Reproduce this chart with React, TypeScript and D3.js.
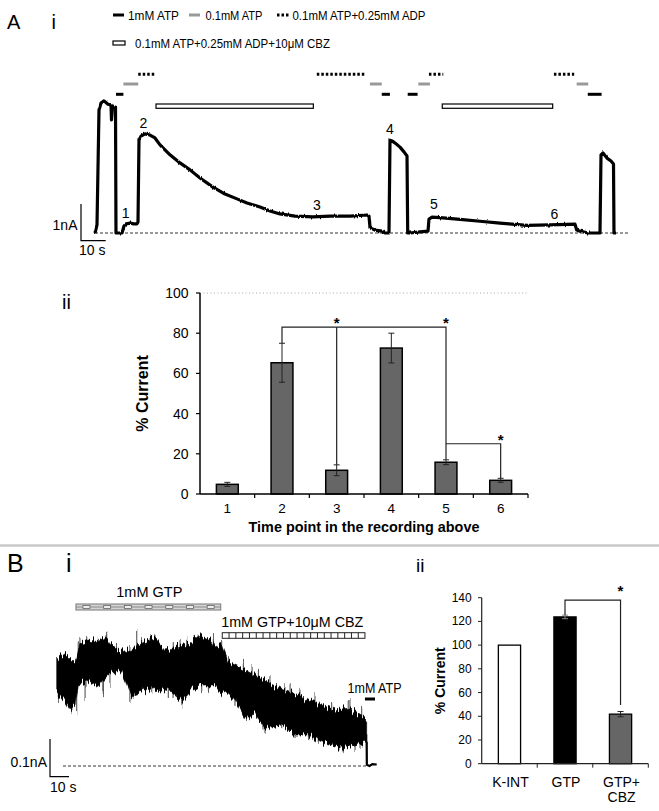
import React from "react";
import * as d3 from "d3";

const FONT = "'Liberation Sans', Arial, Helvetica, sans-serif";

// ---------- Panel A i : current trace (time s, current nA) ----------
const traceATime = [0, 0.81, 1.62, 2.43, 3.64, 5.26, 6.48, 6.68, 7.09, 7.89, 8.3, 8.5, 10.93, 11.74, 12.55, 14.17, 15.79, 17.0, 17.41, 17.81, 18.62, 20.24, 22.27, 24.29, 26.32, 30.36, 34.41, 38.46, 42.51, 47.77, 52.63, 57.49, 61.54, 66.8, 70.85, 74.9, 80.97, 88.26, 95.14, 103.24, 110.12, 110.93, 111.34, 113.36, 116.19, 117.41, 119.03, 119.43, 120.24, 121.86, 123.48, 125.1, 126.32, 126.6, 127.53, 131.58, 134.82, 135.22, 136.44, 139.68, 147.77, 155.87, 163.97, 174.9, 184.21, 194.33, 195.02, 196.36, 199.6, 204.45, 204.86, 205.67, 207.29, 208.91, 209.92, 210.12, 210.93];
const traceACurrent = [0, 0.22, 3.35, 3.54, 3.6, 3.51, 3.49, 3.08, 3.46, 3.43, 3.43, 0, 0, 0.19, 0.25, 0.27, 0.25, 0.25, 0.3, 2.53, 2.64, 2.7, 2.67, 2.59, 2.4, 2.13, 1.91, 1.72, 1.5, 1.25, 1.06, 0.93, 0.82, 0.71, 0.6, 0.52, 0.46, 0.44, 0.46, 0.46, 0.49, 0.46, 0.14, 0.08, 0.05, 0, 0, 2.53, 2.51, 2.43, 2.34, 2.21, 2.1, 0, 0, 0.03, 0.05, 0.38, 0.43, 0.42, 0.37, 0.32, 0.27, 0.21, 0.22, 0.24, 0.08, 0.05, 0, 0, 2.13, 2.18, 2.04, 1.96, 1.88, 0, 0];
const traceAEnd = 216.6;

// solution applications (start, end) in s
const atp1mM = [[8.5, 11.5], [116.1, 119.4], [126.6, 130.6], [199.5, 205.1]];
const atp01mM = [[11.5, 17.5], [111.3, 116.1], [130.9, 135.6], [195.0, 199.7]];
const atpAdp = [[17.5, 24.7], [89.8, 109.7], [135.2, 141.0], [185.8, 194.0]];
const atpAdpCbz = [[24.7, 88.4], [140.6, 185.3]];

// numbered time points on the trace [time s, current nA]
const pointLabels = ["1", "2", "3", "4", "5", "6"];
const pointPos = [[12.4, 0.55], [19.6, 2.99], [89.8, 0.76], [119.4, 2.83], [137.2, 0.79], [186.0, 0.52]];

// ---------- Panel A ii : bar chart ----------
const timePoints = ["1", "2", "3", "4", "5", "6"];
const pctCurrentA = [4.8, 65.3, 11.8, 72.6, 15.8, 6.8];
const pctErrorA = [1.0, 9.7, 2.7, 7.4, 1.2, 1.0];
const yTicksA = [0, 20, 40, 60, 80, 100];

// ---------- Panel B i : GTP trace (time s, current nA) ----------
const bUpper = [[0.37, 0.286], [4.74, 0.3], [10.0, 0.273], [12.6, 0.326], [17.0, 0.334], [22.3, 0.33], [25.8, 0.343], [29.3, 0.321], [36.3, 0.299], [39.8, 0.308], [46.8, 0.33], [52.1, 0.34], [57.4, 0.308], [64.2, 0.316], [69.6, 0.325], [74.9, 0.347], [81.9, 0.33], [83.7, 0.313], [87.2, 0.321], [90.7, 0.277], [97.7, 0.259], [104.7, 0.241], [111.7, 0.224], [118.8, 0.206], [125.8, 0.193], [132.8, 0.175], [139.8, 0.162], [146.8, 0.149], [153.8, 0.153], [159.1, 0.135], [163.5, 0.122]];
const bLower = [[0.37, 0.188], [4.74, 0.171], [7.37, 0.149], [10.0, 0.162], [11.7, 0.215], [17.0, 0.224], [22.3, 0.21], [25.8, 0.233], [29.3, 0.25], [34.6, 0.25], [39.8, 0.188], [46.8, 0.202], [53.8, 0.206], [60.9, 0.197], [66.2, 0.175], [71.4, 0.202], [76.7, 0.215], [81.9, 0.215], [83.7, 0.215], [87.2, 0.194], [88.9, 0.197], [94.2, 0.171], [99.5, 0.127], [104.7, 0.135], [110.0, 0.1], [118.8, 0.109], [125.8, 0.082], [132.8, 0.082], [139.8, 0.064], [145.1, 0.056], [150.4, 0.047], [157.4, 0.056], [163.5, 0.064]];
// individual noise spikes [time s, tip current nA]
const bSpikes = [
  [1.2, 0.175], [8.4, 0.149], [10.9, 0.143], [15.3, 0.175], [15.8, 0.202], [24.7, 0.196], [24.9, 0.188], [28.4, 0.215], [38.9, 0.17], [41.1, 0.183], [43.3, 0.194], [50.4, 0.188], [59.1, 0.175], [61.6, 0.183], [63.5, 0.188], [66.2, 0.162], [76.7, 0.196], [80.2, 0.202],
  [94.2, 0.154], [100.4, 0.122], [108.9, 0.095], [110.0, 0.09], [118.8, 0.095], [125.8, 0.074], [132.8, 0.069], [138.0, 0.056], [145.8, 0.051], [149.5, 0.042], [151.1, 0.042], [157.4, 0.042], [160.0, 0.048],
  [11.7, 0.334], [12.6, 0.342], [16.2, 0.342], [22.3, 0.34], [26.3, 0.347], [26.7, 0.353], [31.9, 0.329], [38.9, 0.321], [42.5, 0.353], [45.1, 0.334], [49.5, 0.342], [52.1, 0.345], [55.6, 0.321], [61.7, 0.326], [65.3, 0.334], [68.8, 0.34], [74.9, 0.353], [75.8, 0.347], [77.5, 0.34], [82.8, 0.342], [87.2, 0.334],
  [90.7, 0.294], [98.6, 0.276], [103.2, 0.268], [106.5, 0.255], [112.6, 0.241], [120.5, 0.22], [123.2, 0.22], [128.4, 0.202], [136.3, 0.188], [145.1, 0.175], [153.8, 0.175], [154.7, 0.175], [160.9, 0.154]
];
const bTailTime = [163.5, 163.6, 165.0, 166.5, 168.8];
const bTailCurrent = [0.064, 0.003, 0.0, 0.005, 0.004];
const bEnd = 163.5;
const gtpApp = [10.5, 86.7];
const gtpCbzApp = [87.5, 162.6];
const atpAppB = [162.6, 167.9];

// ---------- Panel B ii : bar chart ----------
const condB = ["K-INT", "GTP", "GTP+CBZ"];
const condLabelsB = [["K-INT"], ["GTP"], ["GTP+", "CBZ"]];
const pctCurrentB = [100, 123.8, 41.8];
const pctErrorB = [0, 1.5, 2.2];
const barFillB = ["#ffffff", "#000000", "#666666"];
const yTicksB = [0, 20, 40, 60, 80, 100, 120, 140];

export default function App() {
  // --- A i scales
  const xA = d3.scaleLinear().domain([0, traceAEnd]).range([95, 630]);
  const yA = d3.scaleLinear().domain([0, 1]).range([233, 196.3]);
  const lineA = d3.line<number[]>().x((d) => xA(d[0])).y((d) => yA(d[1]));
  const traceA = lineA(traceATime.map((t, i) => [t, traceACurrent[i]])) || "";

  // --- A ii scales
  const xBA = d3.scaleBand<string>().domain(timePoints).range([200, 528]).paddingInner(0.6).paddingOuter(0.3);
  const yBA = d3.scaleLinear().domain([0, 100]).range([494, 293]);
  const cA = (k: string) => (xBA(k) as number) + xBA.bandwidth() / 2;
  const errTopA = (k: string) => {
    const i = timePoints.indexOf(k);
    return pctCurrentA[i] + pctErrorA[i];
  };

  // --- B i scales
  const xB = d3.scaleLinear().domain([0, 170]).range([56, 379]);
  const yB = d3.scaleLinear().domain([0, 0.1]).range([766, 728.3]);
  const lineB = d3.line<number[]>().x((d) => xB(d[0])).y((d) => yB(d[1]));
  const bandPath = (lineB([...bUpper, ...bLower.slice().reverse()]) || "") + "Z";
  const upInterp = d3.scaleLinear().domain(bUpper.map((d) => d[0])).range(bUpper.map((d) => d[1]));
  const loInterp = d3.scaleLinear().domain(bLower.map((d) => d[0])).range(bLower.map((d) => d[1]));
  const tailPath = lineB(bTailTime.map((t, i) => [t, bTailCurrent[i]])) || "";

  // --- B ii scales
  const xBB = d3.scaleBand<string>().domain(condB).range([481.7, 648.3]).paddingInner(0.6).paddingOuter(0.3);
  const yBB = d3.scaleLinear().domain([0, 140]).range([763.7, 597.7]);
  const cB = (k: string) => (xBB(k) as number) + xBB.bandwidth() / 2;

  const appRow = (ranges: number[][], y: number, stroke: string, dash?: string) =>
    ranges.map((r, i) => (
      <line key={i} x1={xA(r[0])} x2={xA(r[1])} y1={y} y2={y} stroke={stroke} strokeWidth={3} strokeDasharray={dash} />
    ));

  const step = xBA.step();
  const stepB = xBB.step();

  return (
    <svg width={659} height={811} style={{ position: "absolute", left: 0, top: 0, background: "#fff" }} fontFamily={FONT}>
      <defs>
        <filter id="fuzzB" filterUnits="userSpaceOnUse" x={40} y={600} width={360} height={190}>
          <feTurbulence type="fractalNoise" baseFrequency="0.55 0.015" numOctaves={2} seed={4} result="t" />
          <feColorMatrix in="t" type="matrix" values="0 0 0 0 0.5  1 0 0 0 0  0 0 0 0 0  0 0 0 0 1" result="m" />
          <feDisplacementMap in="SourceGraphic" in2="m" scale={16} xChannelSelector="R" yChannelSelector="G" />
        </filter>
        <filter id="fuzzA" filterUnits="userSpaceOnUse" x={80} y={80} width={560} height={170}>
          <feTurbulence type="fractalNoise" baseFrequency="0.7 0.05" numOctaves={1} seed={2} result="t" />
          <feColorMatrix in="t" type="matrix" values="0 0 0 0 0.5  1 0 0 0 0  0 0 0 0 0  0 0 0 0 1" result="m" />
          <feDisplacementMap in="SourceGraphic" in2="m" scale={3} xChannelSelector="R" yChannelSelector="G" />
        </filter>
      </defs>

      {/* ================= Panel A i ================= */}
      <text x={7} y={28.5} fontSize={20}>A</text>
      <text x={51.5} y={28.5} fontSize={20}>i</text>

      {/* legend */}
      <line x1={113} x2={124} y1={15} y2={15} stroke="#000" strokeWidth={3} />
      <text x={128} y={19.5} fontSize={12.5} textLength={51} lengthAdjust="spacingAndGlyphs">1mM ATP</text>
      <line x1={189} x2={200} y1={15} y2={15} stroke="#999" strokeWidth={3} />
      <text x={205.5} y={19.5} fontSize={12.5} textLength={57} lengthAdjust="spacingAndGlyphs">0.1mM ATP</text>
      <line x1={277} x2={290} y1={15} y2={15} stroke="#000" strokeWidth={3} strokeDasharray="2.5,2" />
      <text x={292.5} y={19.5} fontSize={12.5} textLength={133} lengthAdjust="spacingAndGlyphs">0.1mM ATP+0.25mM ADP</text>
      <rect x={113} y={41} width={12} height={4} fill="#fff" stroke="#000" strokeWidth={1.2} />
      <text x={135} y={48} fontSize={12.5} textLength={195} lengthAdjust="spacingAndGlyphs">0.1mM ATP+0.25mM ADP+10μM CBZ</text>

      {/* application bars */}
      {appRow(atpAdp, 74.3, "#000", "2.5,2")}
      {appRow(atp01mM, 84, "#999")}
      {appRow(atp1mM, 94.3, "#000")}
      {atpAdpCbz.map((r, i) => (
        <rect key={i} x={xA(r[0])} y={104} width={xA(r[1]) - xA(r[0])} height={4.3} fill="#fff" stroke="#000" strokeWidth={1.2} />
      ))}

      {/* baseline */}
      <line x1={xA(0)} x2={xA(traceAEnd)} y1={yA(0)} y2={yA(0)} stroke="#333" strokeWidth={1} strokeDasharray="3,2" />
      {/* trace */}
      <g filter="url(#fuzzA)">
        <path d={traceA} fill="none" stroke="#000" strokeWidth={3.2} strokeLinejoin="round" />
      </g>
      {pointLabels.map((l, i) => (
        <text key={l} x={xA(pointPos[i][0])} y={yA(pointPos[i][1])} fontSize={14} textAnchor="middle" dominantBaseline="central">{l}</text>
      ))}

      {/* scale bar */}
      <path d={`M81,${yA(0) + 7.7 - (yA(0) - yA(1))}V${yA(0) + 7.7}H${81 + xA(10) - xA(0)}`} fill="none" stroke="#000" strokeWidth={1.2} />
      <text x={77.5} y={225} fontSize={14} textAnchor="end" dominantBaseline="central">1nA</text>
      <text x={79} y={250} fontSize={14} dominantBaseline="central">10 s</text>

      {/* ================= Panel A ii ================= */}
      <text x={62} y={309} fontSize={20}>ii</text>
      <line x1={200} x2={527} y1={yBA(100)} y2={yBA(100)} stroke="#aaa" strokeWidth={1} strokeDasharray="1,2.5" />
      {pctCurrentA.map((v, i) => {
        const k = timePoints[i];
        return (
          <g key={k}>
            <rect x={xBA(k)} y={yBA(v)} width={xBA.bandwidth()} height={yBA(0) - yBA(v)} fill="#666" stroke="#000" strokeWidth={1.5} />
            <line x1={cA(k)} x2={cA(k)} y1={yBA(v + pctErrorA[i])} y2={yBA(v - pctErrorA[i])} stroke="#222" strokeWidth={1} />
            <line x1={cA(k) - 3} x2={cA(k) + 3} y1={yBA(v + pctErrorA[i])} y2={yBA(v + pctErrorA[i])} stroke="#222" strokeWidth={1} />
            <line x1={cA(k) - 3} x2={cA(k) + 3} y1={yBA(v - pctErrorA[i])} y2={yBA(v - pctErrorA[i])} stroke="#222" strokeWidth={1} />
          </g>
        );
      })}
      {/* significance brackets */}
      <path d={`M${cA("2")},${yBA(errTopA("2"))}V${yBA(83)}H${cA("5")}V${yBA(errTopA("5"))}`} fill="none" stroke="#222" strokeWidth={1.2} />
      <line x1={cA("3")} x2={cA("3")} y1={yBA(83)} y2={yBA(errTopA("3"))} stroke="#222" strokeWidth={1.2} />
      <path d={`M${cA("5")},${yBA(25)}H${cA("6")}V${yBA(errTopA("6"))}`} fill="none" stroke="#222" strokeWidth={1.2} />
      <text x={cA("3")} y={yBA(86.5) + 8} fontSize={15} fontWeight="bold" textAnchor="middle">*</text>
      <text x={cA("5")} y={yBA(86.5) + 8} fontSize={15} fontWeight="bold" textAnchor="middle">*</text>
      <text x={cA("6")} y={yBA(28.5) + 8} fontSize={15} fontWeight="bold" textAnchor="middle">*</text>

      {/* axes */}
      <line x1={200} x2={200} y1={yBA(100)} y2={yBA(0)} stroke="#000" strokeWidth={1.5} />
      {yTicksA.map((t) => (
        <g key={t}>
          <line x1={196} x2={200} y1={yBA(t)} y2={yBA(t)} stroke="#000" strokeWidth={1.2} />
          <text x={188.5} y={yBA(t)} fontSize={14} textAnchor="end" dominantBaseline="central">{t}</text>
        </g>
      ))}
      <line x1={200} x2={528} y1={yBA(0)} y2={yBA(0)} stroke="#000" strokeWidth={1.5} />
      {timePoints.map((k, i) => (
        <g key={k}>
          <line x1={200 + step * (i + 1)} x2={200 + step * (i + 1)} y1={yBA(0)} y2={yBA(0) + 4} stroke="#000" strokeWidth={1.2} />
          <text x={cA(k)} y={513} fontSize={13.5} textAnchor="middle">{k}</text>
        </g>
      ))}
      <text transform={`translate(142,${(yBA(0) + yBA(100)) / 2}) rotate(-90)`} fontSize={16} fontWeight="bold" textAnchor="middle" dominantBaseline="central">% Current</text>
      <text x={364} y={532} fontSize={14.4} fontWeight="bold" textAnchor="middle">Time point in the recording above</text>

      {/* separator */}
      <line x1={0} x2={659} y1={545.5} y2={545.5} stroke="#c8c8c8" strokeWidth={2.5} />

      {/* ================= Panel B i ================= */}
      <text x={7} y={572} fontSize={25}>B</text>
      <text x={66} y={572} fontSize={25}>i</text>

      <text x={(xB(gtpApp[0]) + xB(gtpApp[1])) / 2 + 1} y={597} fontSize={14.5} textAnchor="middle">1mM GTP</text>
      <rect x={xB(gtpApp[0])} y={604} width={xB(gtpApp[1]) - xB(gtpApp[0])} height={6} fill="#d4d4d4" stroke="#777" strokeWidth={1} />
      <line x1={xB(gtpApp[0])} x2={xB(gtpApp[1])} y1={607} y2={607} stroke="#8a8a8a" strokeWidth={1} />
      {d3.range(xB(gtpApp[0]) + 7, xB(gtpApp[1]) - 5, 20.7).map((x, i) => (
        <rect key={i} x={x} y={605.5} width={7} height={3} fill="#eee" stroke="#666" strokeWidth={0.8} />
      ))}

      <text x={xB(gtpCbzApp[0]) - 1} y={626.7} fontSize={14.5} textLength={142} lengthAdjust="spacingAndGlyphs">1mM GTP+10μM CBZ</text>
      <rect x={xB(gtpCbzApp[0])} y={632.7} width={xB(gtpCbzApp[1]) - xB(gtpCbzApp[0])} height={5.6} fill="#fff" stroke="#222" strokeWidth={1} />
      {d3.range(xB(gtpCbzApp[0]) + 6.8, xB(gtpCbzApp[1]) - 2, 6.8).map((x, i) => (
        <line key={i} x1={x} x2={x} y1={632.7} y2={638.3} stroke="#222" strokeWidth={1} />
      ))}

      <text x={347.5} y={692.5} fontSize={14} textLength={54} lengthAdjust="spacingAndGlyphs">1mM ATP</text>
      <line x1={xB(atpAppB[0])} x2={xB(atpAppB[1])} y1={699} y2={699} stroke="#000" strokeWidth={3} />

      <line x1={63} x2={xB(bEnd)} y1={yB(0)} y2={yB(0)} stroke="#333" strokeWidth={1} strokeDasharray="3,2" />
      <g filter="url(#fuzzB)">
        {bSpikes.map((s, i) => {
          const mid = (upInterp(s[0]) + loInterp(s[0])) / 2;
          return <line key={i} x1={xB(s[0])} x2={xB(s[0])} y1={yB(mid)} y2={yB(s[1])} stroke="#444" strokeWidth={1} />;
        })}
        <path d={bandPath} fill="#000" stroke="#000" strokeWidth={0.6} />
      </g>
      <path d={`M${xB(bEnd)},${yB(loInterp(bEnd) + 0.02)}V${yB(0.01)}`} stroke="#000" strokeWidth={1.2} />
      <path d={tailPath} fill="none" stroke="#000" strokeWidth={2.2} />

      <path d={`M50,${yB(0) + 10.7 - (yB(0) - yB(0.1))}V${yB(0) + 10.7}H${50 + xB(10) - xB(0)}`} fill="none" stroke="#000" strokeWidth={1.2} />
      <text x={47} y={761.7} fontSize={14} textAnchor="end" dominantBaseline="central">0.1nA</text>
      <text x={50} y={787} fontSize={14} dominantBaseline="central">10 s</text>

      {/* ================= Panel B ii ================= */}
      <text x={416} y={572} fontSize={19}>ii</text>
      {pctCurrentB.map((v, i) => {
        const k = condB[i];
        const e = pctErrorB[i];
        return (
          <g key={k}>
            <rect x={xBB(k)} y={yBB(v)} width={xBB.bandwidth()} height={yBB(0) - yBB(v)} fill={barFillB[i]} stroke="#000" strokeWidth={1.3} />
            {e > 0 && (
              <g stroke={i === 1 ? "#888" : "#222"} strokeWidth={1}>
                <line x1={cB(k)} x2={cB(k)} y1={yBB(v + e)} y2={yBB(v - e)} />
                <line x1={cB(k) - 3} x2={cB(k) + 3} y1={yBB(v + e)} y2={yBB(v + e)} />
                <line x1={cB(k) - 3} x2={cB(k) + 3} y1={yBB(v - e)} y2={yBB(v - e)} />
              </g>
            )}
          </g>
        );
      })}
      <path d={`M${cB("GTP")},${yBB(125.3)}V${yBB(138)}H${cB("GTP+CBZ")}V${yBB(49.5)}`} fill="none" stroke="#222" strokeWidth={1.2} />
      <text x={cB("GTP+CBZ")} y={yBB(148) + 8} fontSize={15} fontWeight="bold" textAnchor="middle">*</text>

      <line x1={481.7} x2={481.7} y1={yBB(140)} y2={yBB(0)} stroke="#222" strokeWidth={1.2} />
      {yTicksB.map((t) => (
        <g key={t}>
          <line x1={478} x2={481.7} y1={yBB(t)} y2={yBB(t)} stroke="#222" strokeWidth={1} />
          <text x={471.7} y={yBB(t)} fontSize={12} textAnchor="end" dominantBaseline="central">{t}</text>
        </g>
      ))}
      <line x1={481.7} x2={648.3} y1={yBB(0)} y2={yBB(0)} stroke="#222" strokeWidth={1.2} />
      {condB.map((k, i) => (
        <g key={k}>
          <line x1={481.7 + stepB * (i + 1)} x2={481.7 + stepB * (i + 1)} y1={yBB(0)} y2={yBB(0) + 4} stroke="#222" strokeWidth={1} />
          {condLabelsB[i].map((s, j) => (
            <text key={j} x={cB(k) + 1} y={786.7 + j * 15} fontSize={14} textAnchor="middle">{s}</text>
          ))}
        </g>
      ))}
      <text transform={`translate(440,${(yBB(0) + yBB(140)) / 2}) rotate(-90)`} fontSize={14} fontWeight="bold" textAnchor="middle" dominantBaseline="central">% Current</text>
    </svg>
  );
}
